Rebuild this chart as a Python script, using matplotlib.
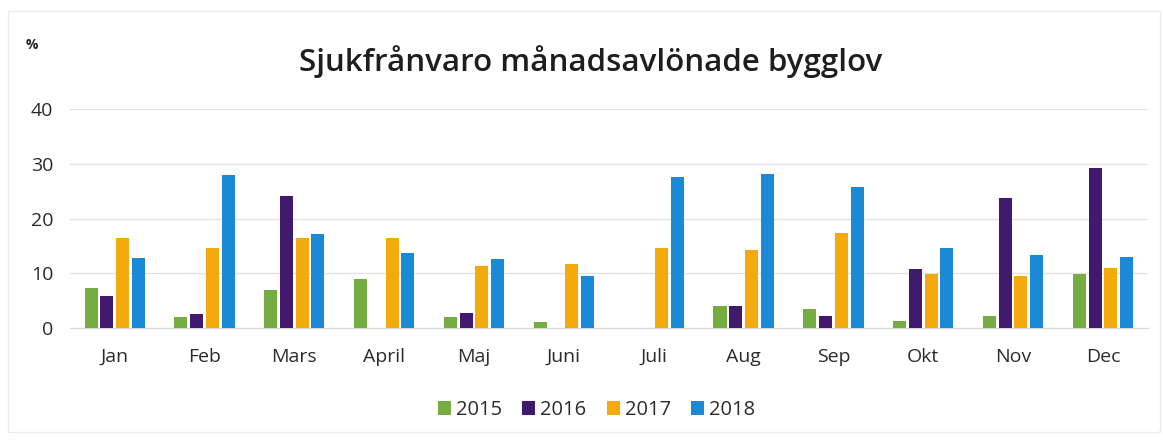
import matplotlib
matplotlib.use("Agg")
import matplotlib.pyplot as plt
import numpy as np

plt.rcParams['font.family'] = ['Open Sans', 'DejaVu Sans']

# --- data ---
months = ['Jan', 'Feb', 'Mars', 'April', 'Maj', 'Juni', 'Juli', 'Aug', 'Sep', 'Okt', 'Nov', 'Dec']
years = ['2015', '2016', '2017', '2018']
v2015 = [7.3, 2.1, 7.0, 8.9, 2.1, 1.2, 0, 4.0, 3.4, 1.3, 2.2, 9.9]
v2016 = [5.8, 2.6, 24.1, 0, 2.8, 0, 0, 4.1, 2.3, 10.7, 23.8, 29.2]
v2017 = [16.4, 14.6, 16.4, 16.5, 11.4, 11.7, 14.7, 14.3, 17.4, 9.9, 9.6, 11.0]
v2018 = [12.8, 28.0, 17.2, 13.7, 12.6, 9.6, 27.5, 28.2, 25.8, 14.7, 13.4, 12.9]
colors = ['#76ad42', '#41196f', '#f4aa0c', '#1b8ad6']

series = [v2015, v2016, v2017, v2018]

fig = plt.figure(figsize=(11.63, 4.41), dpi=100)
ax = fig.add_axes([0.060, 0.256, 0.927, 0.497])

x = np.arange(len(months))
step = 0.175
width = 0.145
for i, (vals, col, lab) in enumerate(zip(series, colors, years)):
    ax.bar(x + (i - 1.5) * step, vals, width=width, color=col, label=lab, zorder=3)

ax.set_xlim(-0.5, 11.5)
ax.set_ylim(0, 40)
ax.set_yticks([0, 10, 20, 30, 40])
ax.set_xticks(x)
ax.set_xticklabels(months)
ax.grid(axis='y', color='#e3e3e3', linewidth=1, zorder=0)
for s in ['top', 'right', 'left']:
    ax.spines[s].set_visible(False)
ax.spines['bottom'].set_color('#d9d9d9')
ax.tick_params(axis='both', length=0, labelsize=14, colors='#2b2b2b')
ax.tick_params(axis='x', pad=14)
ax.tick_params(axis='y', pad=12)

fig.text(0.508, 0.86, 'Sjukfrånvaro månadsavlönade bygglov', ha='center', va='center',
         fontsize=22.5, color='#1e1e1e', fontweight='semibold')
fig.text(0.027, 0.898, '%', ha='center', va='center', fontsize=10, fontweight='bold', color='#222222')

leg = fig.legend(loc='center', bbox_to_anchor=(0.513, 0.07), ncol=4, frameon=False,
                 fontsize=14.5, handlelength=0.65, handleheight=0.65, handletextpad=0.25,
                 columnspacing=1.0, labelcolor='#2b2b2b')

# faint chart border
fig.patches.append(plt.Rectangle((0.007, 0.02), 0.99, 0.955, transform=fig.transFigure,
                                 fill=False, edgecolor='#ececec', linewidth=1))

fig.savefig('out.png', dpi=100)
